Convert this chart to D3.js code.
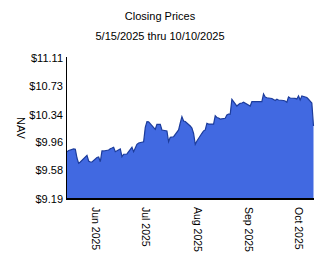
<!DOCTYPE html>
<html><head><meta charset="utf-8">
<script src="https://cdn.jsdelivr.net/npm/d3@7"></script>
<style>
html,body{margin:0;padding:0;background:#fff;}
text{font-family:"Liberation Sans",Arial,sans-serif;font-size:11px;fill:#000;}
</style></head>
<body><svg id="c" width="324" height="267"></svg>
<script>
const titleText = "Closing Prices";
const subtitleText = "5/15/2025 thru 10/10/2025";
const yAxisLabel = "NAV";
const dates = ["2025-05-15","2025-05-16","2025-05-19","2025-05-20","2025-05-21","2025-05-22","2025-05-23","2025-05-27","2025-05-28","2025-05-29","2025-05-30",
"2025-06-02","2025-06-03","2025-06-04","2025-06-05","2025-06-06","2025-06-09","2025-06-10","2025-06-11","2025-06-12","2025-06-13","2025-06-16","2025-06-17","2025-06-18","2025-06-20","2025-06-23","2025-06-24","2025-06-25","2025-06-26","2025-06-27","2025-06-30",
"2025-07-01","2025-07-02","2025-07-03","2025-07-07","2025-07-08","2025-07-09","2025-07-10","2025-07-11","2025-07-14","2025-07-15","2025-07-16","2025-07-17","2025-07-18","2025-07-21","2025-07-22","2025-07-23","2025-07-24","2025-07-25","2025-07-28","2025-07-29","2025-07-30","2025-07-31",
"2025-08-01","2025-08-04","2025-08-05","2025-08-06","2025-08-07","2025-08-08","2025-08-11","2025-08-12","2025-08-13","2025-08-14","2025-08-15","2025-08-18","2025-08-19","2025-08-20","2025-08-21","2025-08-22","2025-08-25","2025-08-26","2025-08-27","2025-08-28","2025-08-29",
"2025-09-02","2025-09-03","2025-09-04","2025-09-05","2025-09-08","2025-09-09","2025-09-10","2025-09-11","2025-09-12","2025-09-15","2025-09-16","2025-09-17","2025-09-18","2025-09-19","2025-09-22","2025-09-23","2025-09-24","2025-09-25","2025-09-26","2025-09-29","2025-09-30",
"2025-10-01","2025-10-02","2025-10-03","2025-10-06","2025-10-07","2025-10-08","2025-10-09","2025-10-10"];
const navValues = [9.834,9.850,9.871,9.867,9.748,9.676,9.694,9.785,9.707,9.694,9.694,
9.755,9.762,9.698,9.844,9.844,9.857,9.875,9.884,9.894,9.834,9.871,9.766,9.799,9.803,9.894,9.834,9.884,9.935,9.953,9.970,
10.166,10.243,10.240,10.139,10.207,10.207,10.207,10.130,10.116,9.970,10.030,10.034,10.038,10.130,10.225,10.311,10.252,10.245,10.184,10.157,10.085,9.935,
9.980,10.085,10.116,10.130,10.221,10.210,10.210,10.324,10.300,10.293,10.279,10.289,10.334,10.347,10.347,10.548,10.456,10.477,10.493,10.497,10.507,
10.456,10.515,10.515,10.515,10.515,10.515,10.620,10.579,10.569,10.559,10.545,10.531,10.548,10.538,10.531,10.524,10.507,10.579,10.565,10.559,10.552,
10.593,10.538,10.593,10.572,10.548,10.524,10.497,10.184];
const yTickLabels = ["$9.19","$9.58","$9.96","$10.34","$10.73","$11.11"];
const yTickValues = [9.19,9.58,9.96,10.34,10.73,11.11];
const xTickDates = ["2025-06-01","2025-07-01","2025-08-01","2025-09-01","2025-10-01"];
const xTickLabels = ["Jun 2025","Jul 2025","Aug 2025","Sep 2025","Oct 2025"];
const domainStart = "2025-05-15", domainEnd = "2025-10-10";

const parse = d3.timeParse("%Y-%m-%d");
const data = dates.map((d,i)=>({date:parse(d), v:navValues[i]}));
const svg = d3.select("#c");
const L=67, R=313.5, T=58, B=199;
const x = d3.scaleTime().domain([parse(domainStart), parse(domainEnd)]).range([L,R]);
const y = d3.scaleLinear().domain([9.19,11.11]).range([B,T]);

svg.append("text").attr("x",160).attr("y",19.5).attr("text-anchor","middle").text(titleText);
svg.append("text").attr("x",160).attr("y",39.5).attr("text-anchor","middle").text(subtitleText);

const area = d3.area().x(d=>x(d.date)).y0(B).y1(d=>y(d.v));
const line = d3.line().x(d=>x(d.date)).y(d=>y(d.v));
svg.append("path").datum(data).attr("d",area).attr("fill","#4169e1");
svg.append("path").datum(data).attr("d",line).attr("fill","none").attr("stroke","#1c3c9c").attr("stroke-width",1.2);

// y axis
const yAxis = d3.axisLeft(y).tickValues(yTickValues).tickSize(0).tickPadding(4)
  .tickFormat((d,i)=>yTickLabels[i]);
const gy = svg.append("g").attr("transform",`translate(${L},0)`).call(yAxis);
gy.select(".domain").remove();
gy.selectAll("text").style("font-family","'Liberation Sans',Arial,sans-serif").style("font-size","11px").attr("fill","#000");
svg.append("line").attr("x1",L-0.5).attr("x2",L-0.5).attr("y1",T-1).attr("y2",B+1).attr("stroke","#000").attr("stroke-width",1);

// x axis
const xAxis = d3.axisBottom(x).tickValues(xTickDates.map(parse)).tickSize(0).tickFormat((d,i)=>xTickLabels[i]);
const gx = svg.append("g").attr("transform",`translate(0,${B})`).call(xAxis);
gx.select(".domain").remove();
gx.selectAll(".tick text")
  .attr("y",0).attr("dy","0.35em").attr("x",8)
  .attr("text-anchor","start")
  .attr("transform","rotate(90)")
  .style("font-family","'Liberation Sans',Arial,sans-serif").style("font-size","10.5px").attr("fill","#000");
svg.append("line").attr("x1",L-1).attr("x2",R+0.5).attr("y1",B).attr("y2",B).attr("stroke","#000").attr("stroke-width",2);

svg.append("text").attr("transform",`translate(17,128) rotate(90)`).attr("text-anchor","middle").text(yAxisLabel);
</script></body></html>
